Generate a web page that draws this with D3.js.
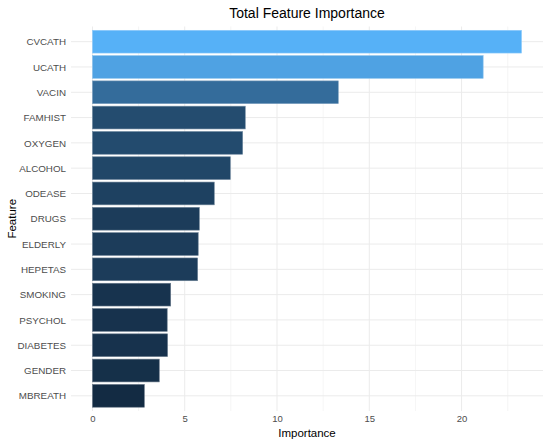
<!DOCTYPE html>
<html>
<head>
<meta charset="utf-8">
<script src="https://cdn.jsdelivr.net/npm/d3@7"></script>
<style>
  body { margin: 0; background: #fff; }
  svg { display: block; font-family: "Liberation Sans", Arial, sans-serif; }
</style>
</head>
<body>
<script>
// data
const features = ["CVCATH", "UCATH", "VACIN", "FAMHIST", "OXYGEN", "ALCOHOL", "ODEASE", "DRUGS",
  "ELDERLY", "HEPETAS", "SMOKING", "PSYCHOL", "DIABETES", "GENDER", "MBREATH"];
const importance = [23.25, 21.17, 13.32, 8.28, 8.14, 7.47, 6.6, 5.79,
  5.73, 5.70, 4.24, 4.05, 4.07, 3.62, 2.81];
const xTicks = [0, 5, 10, 15, 20];
const xMinor = [2.5, 7.5, 12.5, 17.5, 22.5];

const rows = features.map((f, i) => ({ feature: f, value: importance[i] }));

const width = 550, height = 446;
const panel = { left: 71, right: 543, top: 26.5, bottom: 411 };

const maxV = d3.max(importance);
const pad = maxV * 0.05;

const x = d3.scaleLinear()
  .domain([-pad, maxV + pad])
  .range([panel.left, panel.right]);

// ggplot-style discrete axis with 0.6 expansion
const y = d3.scalePoint()
  .domain(features)
  .range([panel.top, panel.bottom])
  .padding(0.6);

const bandH = y.step() * 0.9;

const color = d3.scaleLinear()
  .domain(d3.extent(importance))
  .range(["#132B43", "#56B1F7"])
  .interpolate(d3.interpolateLab);

const svg = d3.select("body").append("svg")
  .attr("width", width)
  .attr("height", height);

// grid
svg.append("g")
  .selectAll("line")
  .data(xMinor)
  .join("line")
    .attr("x1", d => x(d)).attr("x2", d => x(d))
    .attr("y1", panel.top).attr("y2", panel.bottom)
    .attr("stroke", "#F3F3F3")
    .attr("stroke-width", 0.8);

svg.append("g")
  .selectAll("line")
  .data(xTicks)
  .join("line")
    .attr("x1", d => x(d)).attr("x2", d => x(d))
    .attr("y1", panel.top).attr("y2", panel.bottom)
    .attr("stroke", "#EBEBEB")
    .attr("stroke-width", 1);

svg.append("g")
  .selectAll("line")
  .data(features)
  .join("line")
    .attr("x1", panel.left).attr("x2", panel.right)
    .attr("y1", d => y(d)).attr("y2", d => y(d))
    .attr("stroke", "#EBEBEB")
    .attr("stroke-width", 1);

// bars
svg.append("g")
  .selectAll("rect")
  .data(rows)
  .join("rect")
    .attr("x", x(0))
    .attr("y", d => y(d.feature) - bandH / 2)
    .attr("width", d => x(d.value) - x(0))
    .attr("height", bandH)
    .attr("fill", d => color(d.value))
    .attr("stroke", d => d3.interpolateRgb(color(d.value), "#ffffff")(0.35))
    .attr("stroke-width", 0.6);

// x axis
svg.append("g")
  .attr("transform", `translate(0,${panel.bottom})`)
  .call(d3.axisBottom(x).tickValues(xTicks).tickSize(0).tickPadding(4))
  .call(g => g.select(".domain").remove())
  .call(g => g.selectAll("text")
    .style("font-size", "9.5px")
    .attr("fill", "#4D4D4D"));

// y axis
svg.append("g")
  .attr("transform", `translate(${panel.left - 4},0)`)
  .call(d3.axisLeft(y).tickSize(0).tickPadding(1))
  .call(g => g.select(".domain").remove())
  .call(g => g.selectAll("text")
    .style("font-size", "9.8px")
    .attr("fill", "#4D4D4D"));

// titles
svg.append("text")
  .attr("x", (panel.left + panel.right) / 2)
  .attr("y", 18)
  .attr("text-anchor", "middle")
  .style("font-size", "14px")
  .attr("fill", "#000")
  .text("Total Feature Importance");

svg.append("text")
  .attr("x", (panel.left + panel.right) / 2)
  .attr("y", 437)
  .attr("text-anchor", "middle")
  .style("font-size", "11.5px")
  .attr("fill", "#000")
  .text("Importance");

svg.append("text")
  .attr("transform", `translate(16,${(panel.top + panel.bottom) / 2}) rotate(-90)`)
  .attr("text-anchor", "middle")
  .style("font-size", "11.5px")
  .attr("fill", "#000")
  .text("Feature");
</script>
</body>
</html>
